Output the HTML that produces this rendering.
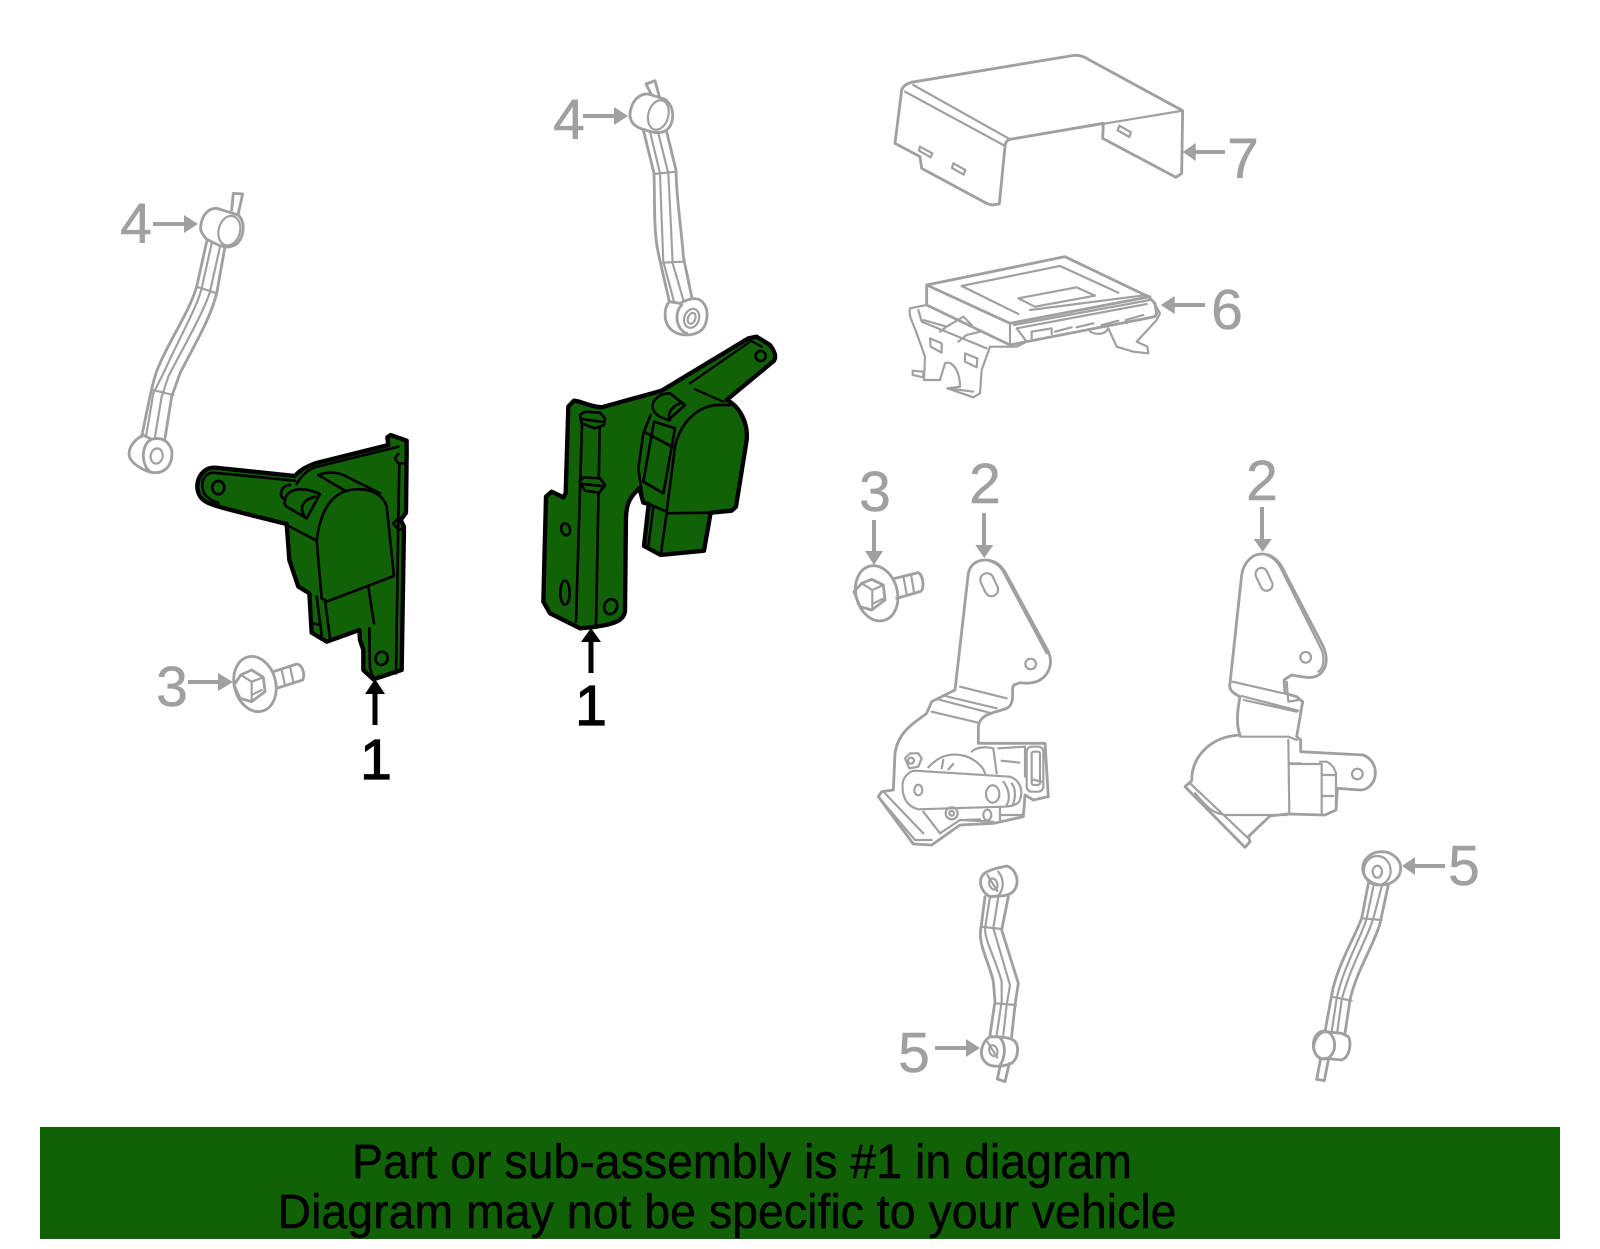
<!DOCTYPE html>
<html><head><meta charset="utf-8"><style>
html,body{margin:0;padding:0;background:#fff}
svg{display:block}
text{font-family:"Liberation Sans",sans-serif}
.g{fill:none;stroke:#a0a0a0;stroke-width:8.5;stroke-linejoin:round;stroke-linecap:round}
.t{stroke-width:6.5}
.o{fill:#116206;stroke:#000;stroke-width:13;stroke-linejoin:round}
.k{fill:none;stroke:#000;stroke-width:8;stroke-linejoin:round;stroke-linecap:round}
.n{font-size:57px;fill:#a0a0a0;stroke:#a0a0a0;stroke-width:.5;text-anchor:middle}
.b{font-size:57px;fill:#000;stroke:#000;stroke-width:1.2;text-anchor:middle}
.a{fill:#a0a0a0}
.s{stroke:#a0a0a0;stroke-width:4}
.l{fill:#000;stroke:#000;stroke-width:.5}
</style></head><body>
<svg xmlns="http://www.w3.org/2000/svg" width="1600" height="1249" viewBox="0 0 1600 1249">
<rect width="1600" height="1249" fill="#fff"/>

<!-- left bracket + sensor -->
<g transform="translate(150,330) scale(.33333)">
<path class="o" d="M435 438L195 413C150 410 125 470 155 505C170 522 190 528 410 582L418 690L445 770L478 790L485 908L530 935L628 900L630 930L640 960L640 1020L670 1048L755 1020L762 590L752 570L768 548L770 375L770 332L722 315L712 322L715 345L495 400C470 410 450 420 435 438Z"/>
<g class="k">
<path d="M435 452L190 428C165 428 150 455 160 485C170 505 190 515 205 518"/>
<ellipse cx="205" cy="473" rx="18" ry="20"/>
<path d="M440 462C460 425 490 412 510 408L745 350"/>
<path d="M745 372L735 385L745 400L765 400M745 565L730 580L745 600L762 595M748 400L745 570L738 1030M658 895L660 1015L672 1048"/>
<ellipse cx="695" cy="985" rx="18" ry="20" transform="rotate(20 695 985)"/>
<path d="M500 632C510 550 540 480 620 478C680 475 705 510 710 530L732 738L530 815L515 805L500 632Z"/>
<path d="M505 435L585 482M505 435C530 425 565 425 590 440L690 490M410 585L500 632"/>
<path d="M405 510C410 480 450 465 510 492L470 565L410 530C400 520 405 515 405 510ZM495 500C460 510 445 530 465 560M420 465C395 465 385 495 400 505"/>
<path d="M525 810L540 925M500 800L515 915M490 880L510 885M655 770L672 880"/>
</g>
</g>

<!-- right bracket + sensor -->
<g transform="translate(500,300) scale(.33333)">
<path class="o" d="M205 320L222 302C250 305 260 318 305 322L485 272L745 115L770 110L810 135C825 155 830 170 822 182L680 300C720 320 745 370 740 420L708 620L695 632L632 638L612 752L482 765L432 738L446 612L430 608L418 565C390 590 380 610 378 650L375 935C370 960 350 970 290 980L240 985L150 940L130 905L138 590L155 575L190 592L197 580Z"/>
<g class="k">
<path d="M247 340L228 965M300 340L288 975"/>
<path d="M240 345L255 335L300 338L315 355L312 375L285 385L245 370ZM250 358L305 365M238 545L252 532L300 535L315 555L298 578L255 572ZM248 552L305 558" fill="#116206"/>
<ellipse cx="197" cy="688" rx="13" ry="18" transform="rotate(-15 197 688)"/>
<ellipse cx="195" cy="878" rx="14" ry="36"/>
<ellipse cx="332" cy="920" rx="19" ry="23" transform="rotate(20 332 920)"/>
<path d="M570 250L750 125M745 118L785 140M585 268L670 305" stroke-width="7"/>
<circle cx="782" cy="168" r="15"/>
<path d="M510 280C470 280 450 310 460 330C470 350 490 355 505 360L555 315ZM540 310C515 320 500 340 510 360" fill="#116206"/>
<path d="M500 635L525 440C540 370 590 320 650 315L690 315"/>
<path d="M452 345L430 400L415 505L430 608M432 395L525 445M462 365L525 385L490 580L430 545ZM500 635L446 612"/>
<path d="M500 640L482 765M632 638L500 640M460 620L445 740"/>
</g>
</g>

<!-- cover 7 + module 6 -->
<g transform="translate(860,30) scale(.33333)" class="g">
<path d="M125 180C130 165 145 158 165 155L630 78C650 73 670 78 685 88L968 242L965 430L948 442L728 325L730 280L450 328C440 330 435 340 435 350L418 522L395 525L380 520L185 415L180 380L105 340Z"/>
<path class="t" d="M135 185L430 345M160 165L445 325M450 328L968 242"/>
<path class="t" d="M180 350L217 370L212 382L177 362ZM280 400L316 420L311 434L276 414ZM778 287L813 307L808 321L773 301Z"/>

<path d="M200 765L615 680L865 800L885 820L890 850L885 860L500 935L450 945L200 825ZM200 765L450 880L870 800"/>
<path class="t" d="M462 885L870 810M470 895L860 822M470 895L500 935M450 880L450 945M475 852L305 768L600 708L775 788M510 840L860 795M475 805L650 772L705 797L525 830Z"/>
<path class="t" d="M515 925L515 905L575 895L575 912M585 905L635 892M650 892L700 880M725 885L775 872M797 870L850 855M797 870L800 880"/>
<path class="t" d="M200 825L150 835C145 860 160 880 170 910L195 980L192 1050L240 1050L255 1000C275 990 300 1020 300 1070L262 1075L340 1102L360 1090L365 1020L390 950L470 950L500 935"/>
<path class="t" d="M745 895L770 950L820 965L865 970L862 950L830 935L890 870L900 850L880 815M690 905C710 915 735 915 745 895"/>
<path class="t" d="M175 840L185 875L380 955M190 870L260 890L310 860L335 885M240 905L260 890M295 935L320 915L360 905M210 925L245 940L245 968L212 950ZM315 970L352 985L350 1012L315 995ZM158 1022L190 1025L190 1042L158 1035ZM265 1075L340 1085"/>
</g>

<!-- sensor 2 left -->
<g transform="translate(860,540) scale(.33333)" class="g">
<path d="M285 450L325 100C330 75 350 60 375 60C405 60 425 75 440 105L565 335C578 365 572 400 540 420C520 432 490 430 480 428L462 435C450 445 470 490 440 505C400 520 360 520 355 560L355 610L555 610L565 770L520 780L495 765L490 830L400 850L300 855L215 915L160 912L55 770L65 755L100 750L105 640C115 570 170 545 200 520L215 485L285 450Z"/>
<g class="t">
<path d="M385 62C410 68 425 85 432 100L560 340"/>
<rect x="368" y="98" width="40" height="72" rx="20" transform="rotate(-25 388 135)"/>
<circle cx="512" cy="372" r="16"/>
<path d="M300 440L440 475M255 468L410 505M230 477L395 520M215 515L355 548"/>
<path d="M165 692L450 710C480 720 490 750 480 780C475 795 450 800 430 800L175 808C140 800 125 770 128 730C130 710 150 692 165 692Z"/>
<ellipse cx="175" cy="750" rx="12" ry="16"/>
<ellipse cx="398" cy="762" rx="20" ry="26"/>
<path d="M430 725C450 750 450 780 440 795M455 730C470 750 465 780 458 795"/>
<path d="M135 655L150 640L175 640L185 655L175 680L148 685Z"/><circle cx="153" cy="662" r="9"/>
<path d="M205 682C235 650 265 640 300 645C340 650 370 680 375 700M335 635C350 620 380 620 400 625L410 700M250 660L245 685M280 672L265 688"/>
<path d="M415 625L495 620L495 710M425 662L478 668"/>
<rect x="500" y="620" width="50" height="135" rx="15"/>
<rect x="515" y="635" width="25" height="100" rx="6"/>
<path d="M515 718L545 725M55 770L165 900L215 900M75 760L190 880M190 815L240 880"/>
<circle cx="275" cy="820" r="18"/><circle cx="275" cy="820" r="7"/>
<ellipse cx="382" cy="825" rx="12" ry="16"/>
<path d="M315 840L360 838M420 800L420 840M420 825L490 825M240 880L300 840L400 845"/>
</g>
</g>

<!-- sensor 2 right -->
<g transform="translate(1170,540) scale(.33333)" class="g">
<path d="M180 430L215 105C220 70 245 42 275 42C300 42 320 55 335 80L460 320C475 355 470 385 450 402C430 420 395 410 365 405L342 420L345 460L380 470L398 485L380 590L392 600L392 635L580 645C605 655 620 680 615 710C610 735 590 750 570 750L502 745L498 810L465 825L350 822L300 828L235 890L240 905L225 922L45 740L65 722C65 650 120 590 210 585C200 560 200 520 210 470C190 460 175 450 180 430Z"/>
<g class="t">
<path d="M290 45C315 55 325 70 335 90L455 330C465 360 460 385 445 395"/>
<rect x="264" y="82" width="36" height="72" rx="18" transform="rotate(-25 282 118)"/>
<circle cx="407" cy="352" r="16"/><circle cx="562" cy="702" r="16"/>
<path d="M188 425L340 460M215 468L385 512M222 480L380 515M350 425L355 485L385 480"/>
<path d="M210 590L355 590L380 600M355 600L358 820M358 670L392 670M358 672L455 672L455 820"/>
<path d="M450 665L470 665C490 675 495 690 498 700L498 810M458 705L498 705M458 768L490 768"/>
<path d="M75 760C110 800 130 825 175 825L350 825M60 730L235 895"/>
</g>
</g>

<!-- link top-left -->
<g transform="translate(110,180) scale(.33333)" class="g">
<path d="M272 140C275 110 290 85 320 85L385 105C410 130 400 180 375 195C355 205 340 200 325 195L290 178C280 165 270 155 272 140Z"/>
<ellipse cx="358" cy="152" rx="32" ry="45" transform="rotate(15 358 152)" class="t"/>
<path d="M365 90L370 40L398 42L385 100"/>
<path d="M290 185L260 320C240 390 180 480 150 550C130 590 120 650 95 770M345 200L320 340C300 420 250 500 210 580L185 650L165 775"/>
<path class="t" d="M305 190L275 325C260 385 200 490 165 570L130 640L108 770M330 200L300 335C280 400 210 520 175 590L155 650L135 770M260 320L320 340M128 630L190 645"/>
<path d="M100 765C70 780 50 810 60 835C75 860 110 875 130 878C170 880 190 850 185 810C175 780 150 770 125 778L100 765ZM125 778C95 790 90 850 120 875"/>
<ellipse cx="140" cy="828" rx="18" ry="23" transform="rotate(10 140 828)" class="t"/>
</g>

<!-- link top-middle -->
<g transform="translate(550,70) scale(.33333)" class="g">
<path d="M240 130C245 90 270 70 295 72L345 88C375 110 375 160 350 180C330 195 300 185 280 178C250 170 238 150 240 130Z"/>
<ellipse cx="325" cy="135" rx="30" ry="45" transform="rotate(15 325 135)" class="t"/>
<path d="M305 75L288 42L315 32L328 80"/>
<path d="M280 180L312 310C315 400 310 480 325 550L358 695M350 185L378 300C380 400 395 480 400 560L425 680"/>
<path class="t" d="M300 185L330 310L335 450L340 575L372 695M325 190L355 310L362 450L368 580L400 690M312 312L378 305M335 578L398 575"/>
<path d="M358 695C340 715 340 760 365 780C390 800 430 800 455 780C475 760 480 710 450 690C430 680 410 690 390 700L358 695ZM395 705C370 730 380 780 410 790"/>
<ellipse cx="425" cy="745" rx="22" ry="29" transform="rotate(20 425 745)" class="t"/>
<ellipse cx="425" cy="745" rx="11" ry="17" transform="rotate(20 425 745)" class="t"/>
</g>

<!-- link lower-middle -->
<g transform="translate(890,855) scale(.33333)" class="g">
<path d="M272 75C275 55 290 45 350 33C375 40 385 70 380 90C375 110 360 120 340 122L300 125C280 115 270 95 272 75Z"/>
<path d="M325 50C345 75 340 105 325 122" class="t"/>
<ellipse cx="310" cy="87" rx="12" ry="17" transform="rotate(-20 310 87)" class="t"/>
<path class="t" d="M292 60L322 108"/>
<path d="M285 125L272 225C265 270 300 330 310 380L315 440L300 540M355 125L335 225L385 385L375 450L365 545"/>
<path class="t" d="M300 125L285 220C285 260 320 320 335 380L335 440L320 540M325 125L310 220L360 390L350 450L340 540M272 215L335 222M315 445L378 450"/>
<path d="M300 545C275 560 265 600 285 620C300 640 340 635 365 625C385 610 390 570 370 555C350 545 320 545 300 545ZM330 548C350 570 345 610 330 630"/>
<ellipse cx="310" cy="587" rx="12" ry="17" transform="rotate(-20 310 587)" class="t"/>
<path class="t" d="M292 560L322 608"/>
<path d="M330 635L322 672L345 680L358 625"/>
</g>

<!-- link lower-right -->
<g transform="translate(1300,840) scale(.33333)" class="g">
<ellipse cx="245" cy="85" rx="57" ry="50"/>
<ellipse cx="232" cy="92" rx="40" ry="44" class="t"/>
<ellipse cx="232" cy="95" rx="14" ry="18" class="t"/>
<path d="M205 130L185 235C160 300 110 380 95 465L75 575M265 135L240 250C220 320 170 390 150 480L135 580"/>
<path class="t" d="M220 140L200 235C185 290 130 380 110 475L95 575M245 140L220 235C200 300 150 380 125 480L112 575M185 235L245 240M95 470L155 482"/>
<path d="M75 575C50 580 38 610 42 630C48 650 60 660 75 655L125 660C150 650 155 610 145 590L125 580Z"/>
<ellipse cx="72" cy="615" rx="32" ry="42"/>
<path d="M62 655L50 718L73 722L85 660"/>
</g>

<!-- bolt left -->
<g transform="translate(150,600) scale(.33333)" class="g">
<ellipse cx="315" cy="252" rx="62" ry="84" transform="rotate(-15 315 252)"/>
<path d="M272 225L305 210L340 232L345 275L305 305L270 295L252 255Z"/>
<path class="t" d="M272 225L305 245L340 232M305 245L305 305M305 285L335 270"/>
<path d="M370 215L440 192C460 195 465 225 458 240L380 265"/>
<path class="t" d="M395 210L405 255M420 200L430 245"/>
</g>

<!-- bolt right -->
<g transform="translate(840,450) scale(.33333)" class="g">
<ellipse cx="110" cy="430" rx="62" ry="84" transform="rotate(-15 110 430)"/>
<path d="M65 400L95 388L130 405L135 450L95 480L60 470L42 425Z"/>
<path class="t" d="M65 400L97 420L130 405M97 420L97 480M97 462L127 447"/>
<path d="M165 385L235 368C250 375 255 420 240 425L170 445"/>
<path class="t" d="M190 378L200 432M213 372L222 427"/>
</g>

<!-- grey arrows -->
<g class="a">
<path class="s" d="M874 520V553M984 513V546M1262 507V541M1225 152H1194M1205 305H1174M153 224H185M583 116H615M935 1048H967M1445 866H1414M188 682H219"/>
<path d="M874 565l-9-14h18zM984.300 558l-9-13h18zM1262.700 552l-9-13h18zM1182.700 152l13-9v18zM1160.700 305l14-9v18zM198 224l-14-9v18zM628 116l-14-9v18zM980 1048l-14-9v18zM1402 866l13-9v18zM233 682l-15-9v18z"/>
</g>

<!-- black arrows -->
<path d="M375 725V690M591 673V638" stroke="#000" stroke-width="5"/>
<path d="M375 679l-10 15h20zM591 628l-10 14h20z"/>

<!-- labels -->
<text class="n" x="136" y="243">4</text>
<text class="n" x="569" y="139">4</text>
<text class="n" x="1243" y="178">7</text>
<text class="n" x="1227" y="329">6</text>
<text class="n" x="875" y="511">3</text>
<text class="n" x="172" y="706">3</text>
<text class="n" x="985" y="503">2</text>
<text class="n" x="1262" y="500">2</text>
<text class="n" x="914" y="1072">5</text>
<text class="n" x="1464" y="885">5</text>
<text class="b" x="376" y="779">1</text>
<text class="b" x="591" y="725">1</text>

<!-- banner -->
<rect x="40" y="1127" width="1520" height="112" fill="#116206"/>
<text class="l" x="352" y="1178" font-size="48" textLength="780" lengthAdjust="spacingAndGlyphs">Part or sub-assembly is #1 in diagram</text>
<text class="l" x="277.500" y="1228" font-size="48" textLength="899" lengthAdjust="spacingAndGlyphs">Diagram may not be specific to your vehicle</text>
</svg>
</body></html>
